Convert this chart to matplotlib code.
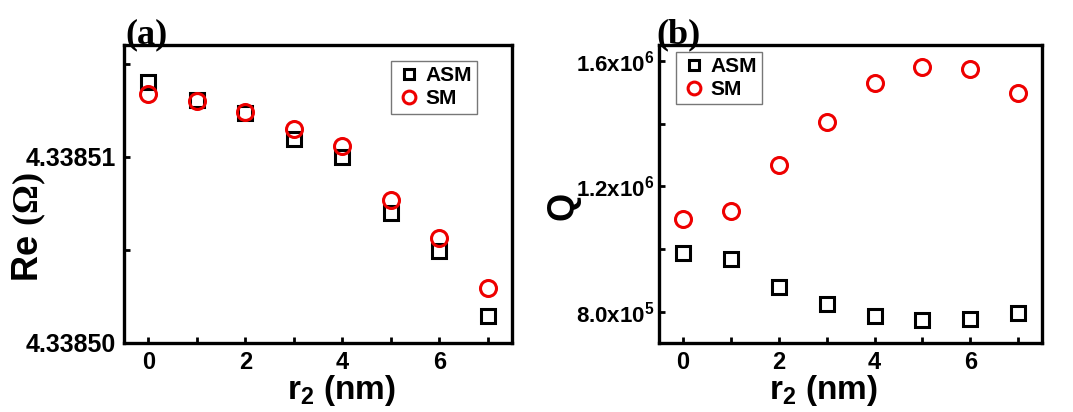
import numpy as np
import matplotlib
matplotlib.use("Agg")
import matplotlib.pyplot as plt
from matplotlib.ticker import FixedLocator, FixedFormatter

plt.rcParams['font.family'] = ['Liberation Sans', 'DejaVu Sans']
plt.rcParams['font.weight'] = 'bold'
plt.rcParams['mathtext.fontset'] = 'custom'
plt.rcParams['mathtext.bf'] = 'Liberation Sans:bold'
plt.rcParams['mathtext.rm'] = 'Liberation Serif'
plt.rcParams['mathtext.it'] = 'Liberation Sans:bold'

r2 = [0, 1, 2, 3, 4, 5, 6, 7]
# panel (a): Re in units of 1e-5 above 4.33850
re_asm = [1.400, 1.303, 1.235, 1.095, 0.998, 0.697, 0.496, 0.145]
re_sm = [1.339, 1.297, 1.238, 1.149, 1.059, 0.769, 0.566, 0.294]
re_base = 4.33850
# panel (b): Q
q_asm = [9.89e5, 9.69e5, 8.81e5, 8.25e5, 7.87e5, 7.74e5, 7.77e5, 7.98e5]
q_sm = [1.096e6, 1.121e6, 1.268e6, 1.407e6, 1.529e6, 1.580e6, 1.574e6, 1.497e6]

re_ticks = [4.33850, 4.33851]
q_ticks = [8.0e5, 1.2e6, 1.6e6]
q_ticklabels = [r'$\mathbf{8.0x10^{5}}$', r'$\mathbf{1.2x10^{6}}$', r'$\mathbf{1.6x10^{6}}$']

fig = plt.figure(figsize=(10.73, 4.12), dpi=100)
ax1 = fig.add_axes([0.1156, 0.1675, 0.3616, 0.7233])
ax2 = fig.add_axes([0.6142, 0.1675, 0.357, 0.7233])

re_asm_v = [re_base + v * 1e-5 for v in re_asm]
re_sm_v = [re_base + v * 1e-5 for v in re_sm]

sq = dict(marker='s', ls='none', ms=9.5, mfc='none', mec='black', mew=2.2, label='ASM')
ci = dict(marker='o', ls='none', ms=11.5, mfc='none', mec='#ee0000', mew=2.2, label='SM')

ax1.plot(r2, re_asm_v, **sq)
ax1.plot(r2, re_sm_v, **ci)
ax2.plot(r2, q_asm, **sq)
ax2.plot(r2, q_sm, **ci)

for ax in (ax1, ax2):
    ax.set_xlim(-0.5, 7.5)
    for s in ax.spines.values():
        s.set_linewidth(2.4)
    ax.xaxis.set_major_locator(FixedLocator([0, 2, 4, 6]))
    ax.xaxis.set_minor_locator(FixedLocator([1, 3, 5, 7]))
    ax.tick_params(which='both', direction='in', width=2, length=4)
    ax.tick_params(axis='x', labelsize=17, pad=6)
    ax.set_xlabel(r'r$_{\mathbf{2}}$ (nm)', fontsize=24, fontweight='bold', va='center')

ax1.set_ylim(4.33850, 4.338516)
ax1.yaxis.set_major_locator(FixedLocator(re_ticks))
ax1.yaxis.set_major_formatter(FixedFormatter(['%.5f' % t for t in re_ticks]))
ax1.yaxis.set_minor_locator(FixedLocator([4.338505, 4.338515]))
ax1.tick_params(axis='y', labelsize=18, pad=6)
ax1.set_ylabel(r'Re $\mathrm{(\Omega)}$', fontsize=26, fontweight='bold', va='center')
ax1.yaxis.set_label_coords(-0.245, 0.39)
ax1.xaxis.set_label_coords(0.56, -0.16)

ax2.set_ylim(7.01e5, 1.651e6)
ax2.yaxis.set_major_locator(FixedLocator(q_ticks))
ax2.yaxis.set_major_formatter(FixedFormatter(q_ticklabels))
ax2.yaxis.set_minor_locator(FixedLocator([1.0e6, 1.4e6]))
ax2.tick_params(axis='y', labelsize=16, pad=3)
ax2.set_ylabel('Q', fontsize=26, fontweight='bold', va='center')
ax2.yaxis.set_label_coords(-0.25, 0.46)
ax2.xaxis.set_label_coords(0.43, -0.16)

leg_kw = dict(fontsize=15, frameon=True, fancybox=False, edgecolor='#777777',
              handletextpad=0.2, borderpad=0.25, labelspacing=0.2, borderaxespad=0,
              handlelength=1.2, markerscale=0.8, framealpha=1)
l1 = ax1.legend(loc='upper right', bbox_to_anchor=(0.91, 0.946), **leg_kw)
l2 = ax2.legend(loc='upper left', bbox_to_anchor=(0.044, 0.977), **leg_kw)
for l in (l1, l2):
    l.get_frame().set_linewidth(1.0)

fig.text(0.1165, 0.895, '(a)', fontsize=26, fontweight='bold', family='Liberation Serif')
fig.text(0.612, 0.895, '(b)', fontsize=26, fontweight='bold', family='Liberation Serif')

fig.savefig('out.png', dpi=100)
